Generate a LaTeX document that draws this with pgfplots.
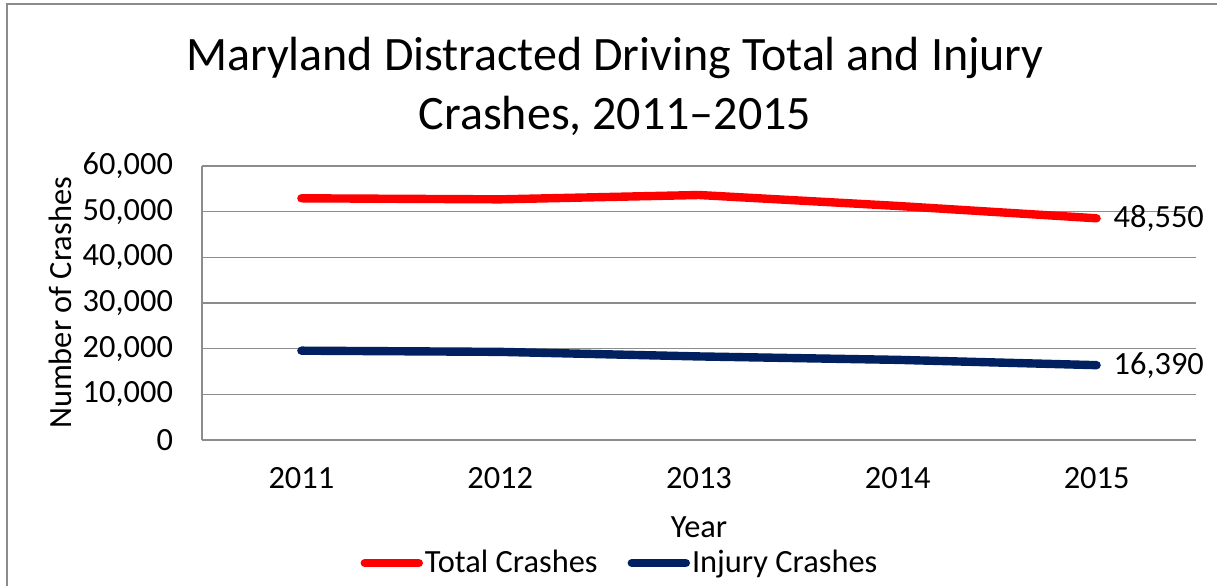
\documentclass[border=0pt]{standalone}
\usepackage{pgfplots}
\pgfplotsset{compat=1.18}
\usepackage{fontspec}
\setmainfont{Carlito}
\definecolor{redline}{HTML}{FF0000}
\definecolor{navyline}{HTML}{002060}
\definecolor{gridgray}{HTML}{8C8C8C}
\begin{document}
\begin{tikzpicture}
\path[use as bounding box] (0pt,0pt) rectangle (608.5pt,293pt);
\draw[gridgray, line width=1pt] (3.5pt,0pt) -- (3.5pt,291pt) -- (610pt,291pt);
\node[font=\fontsize{24}{29.5}\selectfont, align=center] at (307.5pt,250pt)
  {Maryland Distracted Driving Total and Injury\\Crashes, 2011--2015};
\begin{axis}[
  at={(101pt,73pt)}, anchor=south west,
  width=497pt, height=137pt, scale only axis,
  xmin=-0.5, xmax=4.5, ymin=0, ymax=60000,
  xtick={0,1,2,3,4}, xticklabels={2011,2012,2013,2014,2015},
  ytick={0,10000,20000,30000,40000,50000,60000},
  scaled y ticks=false,
  /pgf/number format/.cd, fixed, 1000 sep={,}, assume math mode=true,
  /pgfplots/.cd,
  ymajorgrids, grid style={gridgray, line width=0.8pt},
  axis x line=bottom, axis y line=left,
  axis line style={gridgray, line width=0.8pt, -},
  major tick length=0pt,
  tick label style={font=\fontsize{16.2}{19}\selectfont, black},
  yticklabel style={xshift=-11pt},
  xticklabel style={yshift=-10pt},
  xlabel={Year}, ylabel={Number of Crashes},
  label style={font=\fontsize{16.2}{19}\selectfont},
  xlabel style={at={(axis description cs:0.5,0)}, anchor=center, yshift=-43.5pt},
  ylabel style={at={(axis description cs:0,0.5)}, anchor=center, xshift=0pt, yshift=71pt},
  legend columns=2,
  legend style={at={(axis description cs:0.4205,-0.449)}, anchor=center, draw=none,
    font=\fontsize{16.2}{19}\selectfont, /tikz/every even column/.append style={column sep=14pt},
    inner sep=0pt, nodes={inner xsep=1pt}},
  legend image code/.code={\draw[#1, line cap=round] (0pt,0pt) -- (27pt,0pt);},
  clip=false,
]
\addplot[redline, line width=4.2pt, line cap=round, line join=round]
  coordinates {(0,52930) (1,52700) (2,53650) (3,51250) (4,48550)};
\addlegendentry{Total Crashes}
\addplot[navyline, line width=4.2pt, line cap=round, line join=round]
  coordinates {(0,19560) (1,19300) (2,18300) (3,17550) (4,16390)};
\addlegendentry{Injury Crashes}
\addplot[draw=none, forget plot, nodes near coords, point meta=explicit symbolic,
  nodes near coords style={anchor=west, xshift=5pt, font=\fontsize{16.2}{19}\selectfont, black}]
  coordinates {(4,48550)[48,550] (4,16390)[16,390]};
\end{axis}
\end{tikzpicture}
\end{document}
